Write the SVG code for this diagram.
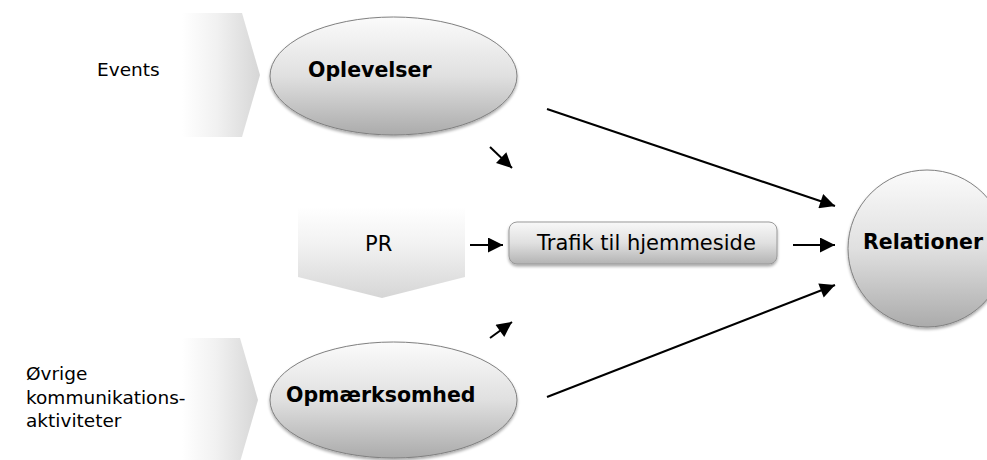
<svg xmlns="http://www.w3.org/2000/svg" width="987" height="460" viewBox="0 0 987 460">
<defs>
  <linearGradient id="chevH" x1="0" y1="0" x2="1" y2="0">
    <stop offset="0" stop-color="#ffffff"/>
    <stop offset="0.45" stop-color="#f1f1f1"/>
    <stop offset="1" stop-color="#d6d6d6"/>
  </linearGradient>
  <linearGradient id="chevV" x1="0" y1="0" x2="0" y2="1">
    <stop offset="0" stop-color="#ffffff"/>
    <stop offset="0.4" stop-color="#f2f2f2"/>
    <stop offset="1" stop-color="#d6d6d6"/>
  </linearGradient>
  <linearGradient id="ball" x1="0" y1="0" x2="0" y2="1">
    <stop offset="0" stop-color="#fbfbfb"/>
    <stop offset="0.5" stop-color="#e0e0e0"/>
    <stop offset="1" stop-color="#ababab"/>
  </linearGradient>
  <linearGradient id="btn" x1="0" y1="0" x2="0" y2="1">
    <stop offset="0" stop-color="#f8f8f8"/>
    <stop offset="0.5" stop-color="#e0e0e0"/>
    <stop offset="1" stop-color="#b3b3b3"/>
  </linearGradient>
  <filter id="sh" x="-10%" y="-10%" width="120%" height="130%">
    <feGaussianBlur in="SourceAlpha" stdDeviation="1.5"/>
    <feOffset dx="0" dy="2" result="b"/>
    <feComponentTransfer><feFuncA type="linear" slope="0.35"/></feComponentTransfer>
    <feMerge><feMergeNode/><feMergeNode in="SourceGraphic"/></feMerge>
  </filter>
  <marker id="ah" viewBox="0 0 10 10" refX="10" refY="5" markerWidth="8" markerHeight="7.5" markerUnits="strokeWidth" orient="auto">
    <path d="M0,0 L10,5 L0,10 Z" fill="#000"/>
  </marker>
</defs>
<style>
  .lbl { font-family: "DejaVu Sans", Verdana, sans-serif; fill: #000; }
  .reg { font-size: 18.5px; }
  .mid { font-size: 21px; }
  .bold { font-size: 20.5px; font-weight: bold; }
  .ball { fill: url(#ball); stroke: #808080; stroke-width: 1; filter: url(#sh); }
  .conn { stroke: #000; stroke-width: 2; fill: none; marker-end: url(#ah); }
</style>

<g id="events">
  <polygon points="182,13 242,13 260,75 242,137 182,137" fill="url(#chevH)"/>
  <text class="lbl reg" x="97" y="76">Events</text>
</g>

<g id="oevrige">
  <polygon points="182,338 240,338 258,400 240,462 182,462" fill="url(#chevH)"/>
  <text class="lbl reg" x="26" y="380">Øvrige</text>
  <text class="lbl reg" x="26" y="404">kommunikations-</text>
  <text class="lbl reg" x="26" y="427">aktiviteter</text>
</g>

<g id="pr">
  <polygon points="298,207 465,207 465,277 382,298 298,277" fill="url(#chevV)"/>
  <text class="lbl mid" x="365" y="251">PR</text>
</g>

<g id="oplevelser">
  <ellipse class="ball" cx="393.5" cy="76" rx="123.5" ry="59"/>
  <text class="lbl bold" x="308" y="77">Oplevelser</text>
</g>

<g id="opmaerksomhed">
  <ellipse class="ball" cx="393.5" cy="400" rx="123.5" ry="58"/>
  <text class="lbl bold" x="286" y="402">Opmærksomhed</text>
</g>

<g id="trafik">
  <rect x="509" y="222" width="268" height="42" rx="8" ry="8" fill="url(#btn)" stroke="#999" stroke-width="1" filter="url(#sh)"/>
  <text class="lbl mid" x="537" y="250">Trafik til hjemmeside</text>
</g>

<g id="relationer">
  <ellipse class="ball" cx="927" cy="248.5" rx="79" ry="78.5"/>
  <text class="lbl bold" x="863" y="249">Relationer</text>
</g>

<g id="connectors">
  <line class="conn" x1="490" y1="147" x2="512" y2="168"/>
  <line class="conn" x1="490" y1="338" x2="512" y2="322"/>
  <line class="conn" x1="470" y1="245" x2="503" y2="245"/>
  <line class="conn" x1="793" y1="245" x2="835" y2="245"/>
  <line class="conn" x1="547" y1="109" x2="835" y2="206"/>
  <line class="conn" x1="547" y1="397" x2="835" y2="285"/>
</g>
</svg>
